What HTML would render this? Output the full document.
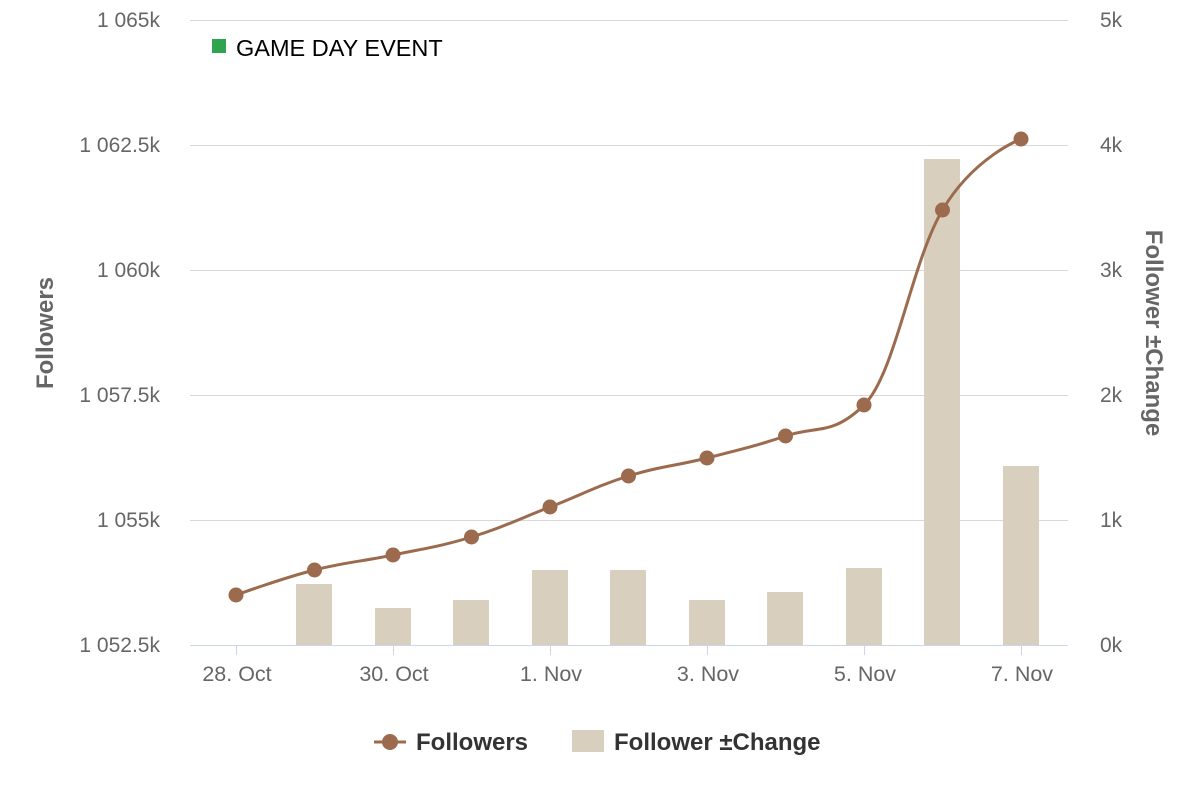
<!DOCTYPE html>
<html><head><meta charset="utf-8"><style>
body{margin:0;background:#fff;width:1200px;height:800px;overflow:hidden}
text{font-family:"Liberation Sans",sans-serif}
</style></head><body>
<svg id="s" width="1200" height="800" xmlns="http://www.w3.org/2000/svg">
<g stroke="#d8d8d8" stroke-width="1">
<line x1="190" x2="1068" y1="20.5" y2="20.5"/>
<line x1="190" x2="1068" y1="145.5" y2="145.5"/>
<line x1="190" x2="1068" y1="270.5" y2="270.5"/>
<line x1="190" x2="1068" y1="395.5" y2="395.5"/>
<line x1="190" x2="1068" y1="520.5" y2="520.5"/>
</g>
<g fill="#d9cfbf">
<rect x="296" y="584" width="36" height="61"/>
<rect x="375" y="608" width="36" height="37"/>
<rect x="453" y="600" width="36" height="45"/>
<rect x="532" y="570" width="36" height="75"/>
<rect x="610" y="570" width="36" height="75"/>
<rect x="689" y="600" width="36" height="45"/>
<rect x="767" y="592" width="36" height="53"/>
<rect x="846" y="568" width="36" height="77"/>
<rect x="924" y="159" width="36" height="486"/>
<rect x="1003" y="466" width="36" height="179"/>
</g>
<line x1="190" x2="1068" y1="645.5" y2="645.5" stroke="#ccd6eb"/>
<g stroke="#ccd6eb"><line x1="236.5" x2="236.5" y1="645" y2="655"/><line x1="393.5" x2="393.5" y1="645" y2="655"/><line x1="550.5" x2="550.5" y1="645" y2="655"/><line x1="707.5" x2="707.5" y1="645" y2="655"/><line x1="864.5" x2="864.5" y1="645" y2="655"/><line x1="1021.5" x2="1021.5" y1="645" y2="655"/></g>
<path id="ln" fill="none" stroke="#9c6b4e" stroke-width="3"/>
<g id="pts" fill="#9c6b4e"></g>
<g fill="#666" font-size="21" text-anchor="end">
<text x="160" y="27">1 065k</text><text x="160" y="152">1 062.5k</text><text x="160" y="277">1 060k</text><text x="160" y="402">1 057.5k</text><text x="160" y="527">1 055k</text><text x="160" y="652">1 052.5k</text>
</g>
<g fill="#666" font-size="21" text-anchor="start">
<text x="1100" y="27">5k</text><text x="1100" y="152">4k</text><text x="1100" y="277">3k</text><text x="1100" y="402">2k</text><text x="1100" y="527">1k</text><text x="1100" y="652">0k</text>
</g>
<g fill="#666" font-size="21.5" text-anchor="middle">
<text x="237" y="681">28. Oct</text><text x="394" y="681">30. Oct</text><text x="551" y="681">1. Nov</text><text x="708" y="681">3. Nov</text><text x="865" y="681">5. Nov</text><text x="1022" y="681">7. Nov</text>
</g>
<text transform="translate(53,333) rotate(-90)" text-anchor="middle" fill="#666" font-size="24" font-weight="bold">Followers</text>
<text transform="translate(1146,333) rotate(90)" text-anchor="middle" fill="#666" font-size="24" font-weight="bold">Follower ±Change</text>
<rect x="212" y="39" width="14" height="14" fill="#2ea44f"/>
<text x="236" y="56" font-size="23.5" fill="#000">GAME DAY EVENT</text>
<line x1="374" x2="406" y1="742" y2="742" stroke="#9c6b4e" stroke-width="3"/>
<circle cx="390" cy="742" r="8" fill="#9c6b4e"/>
<text x="416" y="750" font-size="24" font-weight="bold" fill="#333">Followers</text>
<rect x="572" y="730" width="32" height="22" fill="#d9cfbf"/>
<text x="614" y="750" font-size="24" font-weight="bold" fill="#333">Follower ±Change</text>
</svg>
<script>
var xs=[],ys=[595,570,555,537,507,476,458,436,405,210,139];
for(var i=0;i<11;i++)xs.push(236+i*78.5);
var d="M"+xs[0]+" "+ys[0];
function c(i){var s=1.5,d2=2.5;
var lx=(s*xs[i]+xs[i-1])/d2,ly=(s*ys[i]+ys[i-1])/d2,rx=(s*xs[i]+xs[i+1])/d2,ry=(s*ys[i]+ys[i+1])/d2;
var corr=((ry-ly)*(rx-xs[i]))/(rx-lx)+ys[i]-ry;ly+=corr;ry+=corr;
if(ly>Math.max(ys[i-1],ys[i])){ly=Math.max(ys[i-1],ys[i]);ry=2*ys[i]-ly;}else if(ly<Math.min(ys[i-1],ys[i])){ly=Math.min(ys[i-1],ys[i]);ry=2*ys[i]-ly;}
if(ry>Math.max(ys[i+1],ys[i])){ry=Math.max(ys[i+1],ys[i]);ly=2*ys[i]-ry;}else if(ry<Math.min(ys[i+1],ys[i])){ry=Math.min(ys[i+1],ys[i]);ly=2*ys[i]-ry;}
return [lx,ly,rx,ry];}
var cp=[null];for(i=1;i<10;i++)cp.push(c(i));
for(i=1;i<11;i++){var a=i-1,p1=a==0?[xs[0],ys[0]]:[cp[a][2],cp[a][3]],p2=i==10?[xs[10],ys[10]]:[cp[i][0],cp[i][1]];
d+=" C"+p1[0]+" "+p1[1]+" "+p2[0]+" "+p2[1]+" "+xs[i]+" "+ys[i];}
document.getElementById("ln").setAttribute("d",d);
var g=document.getElementById("pts"),h="";
for(i=0;i<11;i++)h+='<circle cx="'+xs[i]+'" cy="'+ys[i]+'" r="7.5"/>';
g.innerHTML=h;
</script>
</body></html>
